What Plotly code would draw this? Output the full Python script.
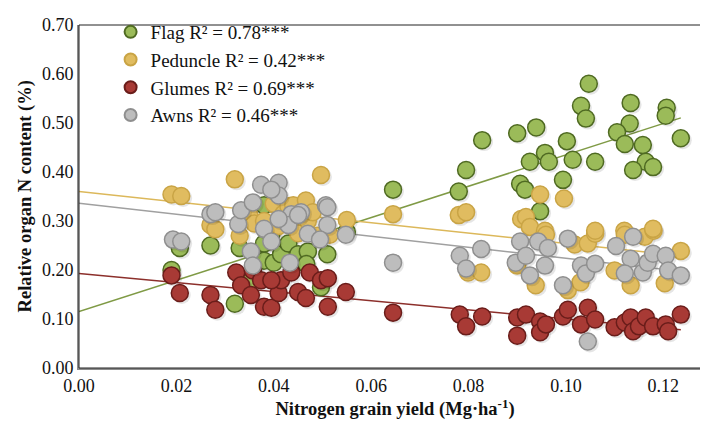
import numpy as np
import plotly.graph_objects as go

# Flag leaf
flag_x = [0.0207, 0.019, 0.027, 0.033, 0.032, 0.035, 0.038, 0.038, 0.038, 0.0395,
          0.040, 0.0415, 0.043, 0.045, 0.047, 0.0467, 0.051, 0.0497, 0.055, 0.0645,
          0.0795, 0.078, 0.0828, 0.090, 0.0939, 0.1047, 0.1031, 0.1041, 0.1133, 0.1207,
          0.1205, 0.1131, 0.1105, 0.1236, 0.1002, 0.0957, 0.0965, 0.0926, 0.1014, 0.106,
          0.1121, 0.1158, 0.1164, 0.1179, 0.1138, 0.0994, 0.0906, 0.0916, 0.0947]
flag_y = [0.245, 0.20, 0.25, 0.245, 0.131, 0.175, 0.332, 0.254, 0.219, 0.272,
          0.215, 0.232, 0.254, 0.232, 0.238, 0.212, 0.232, 0.165, 0.278, 0.364,
          0.404, 0.360, 0.465, 0.479, 0.491, 0.580, 0.535, 0.509, 0.541, 0.531,
          0.515, 0.499, 0.481, 0.469, 0.463, 0.439, 0.421, 0.421, 0.425, 0.421,
          0.457, 0.455, 0.421, 0.410, 0.404, 0.384, 0.376, 0.364, 0.320]

# Peduncle
ped_x = [0.019, 0.021, 0.027, 0.028, 0.033, 0.032, 0.035, 0.036, 0.038, 0.040,
         0.041, 0.042, 0.043, 0.044, 0.045, 0.0466, 0.047, 0.048, 0.049, 0.0497,
         0.0515, 0.055, 0.0645, 0.078, 0.0795, 0.0799, 0.0826, 0.090, 0.0908, 0.0918,
         0.0926, 0.0938, 0.0947, 0.0957, 0.0959, 0.0996, 0.1004, 0.1018, 0.103, 0.1045,
         0.106, 0.106, 0.110, 0.112, 0.1121, 0.1133, 0.1162, 0.118, 0.1179, 0.1203,
         0.1236]
ped_y = [0.354, 0.351, 0.292, 0.283, 0.270, 0.385, 0.312, 0.295, 0.300, 0.335,
         0.290, 0.315, 0.330, 0.332, 0.275, 0.342, 0.300, 0.318, 0.270, 0.394,
         0.272, 0.302, 0.314, 0.312, 0.318, 0.195, 0.195, 0.209, 0.304, 0.308,
         0.288, 0.169, 0.354, 0.280, 0.272, 0.346, 0.159, 0.252, 0.175, 0.254,
         0.274, 0.280, 0.199, 0.280, 0.272, 0.169, 0.268, 0.280, 0.284, 0.173,
         0.239]

# Glumes
glu_x = [0.019, 0.0207, 0.027, 0.028, 0.0323, 0.0333, 0.0353, 0.0357, 0.0374, 0.038,
         0.0395, 0.041, 0.0415, 0.0436, 0.0395, 0.045, 0.0466, 0.0474, 0.0497, 0.0511,
         0.0511, 0.0548, 0.0645, 0.0782, 0.0795, 0.0828, 0.090, 0.090, 0.0918, 0.0947,
         0.0947, 0.0959, 0.0994, 0.1004, 0.1031, 0.1045, 0.106, 0.110, 0.1121, 0.1133,
         0.1138, 0.115, 0.1164, 0.1179, 0.1205, 0.121, 0.1236]
glu_y = [0.189, 0.153, 0.149, 0.119, 0.195, 0.169, 0.149, 0.199, 0.179, 0.125,
         0.123, 0.153, 0.179, 0.195, 0.179, 0.155, 0.143, 0.195, 0.179, 0.183,
         0.125, 0.155, 0.113, 0.109, 0.085, 0.105, 0.103, 0.066, 0.109, 0.095,
         0.073, 0.089, 0.105, 0.119, 0.089, 0.123, 0.099, 0.083, 0.093, 0.103,
         0.075, 0.085, 0.103, 0.085, 0.089, 0.075, 0.109]

# Awns
awn_x = [0.0193, 0.021, 0.027, 0.028, 0.0327, 0.0333, 0.0357, 0.0353, 0.0357, 0.038,
         0.0374, 0.041, 0.041, 0.0395, 0.0507, 0.0456, 0.0436, 0.051, 0.051, 0.047,
         0.0495, 0.0548, 0.0395, 0.0433, 0.043, 0.045, 0.041, 0.0645, 0.0782, 0.0795,
         0.0826, 0.0906, 0.0897, 0.0918, 0.0926, 0.0943, 0.0963, 0.0957, 0.0994, 0.1004,
         0.1031, 0.1041, 0.106, 0.1045, 0.1103, 0.1138, 0.1133, 0.1121, 0.1158, 0.1168,
         0.1179, 0.1205, 0.121, 0.1236]
awn_y = [0.262, 0.258, 0.314, 0.318, 0.294, 0.322, 0.338, 0.238, 0.209, 0.284,
         0.374, 0.378, 0.352, 0.364, 0.332, 0.318, 0.314, 0.328, 0.292, 0.274,
         0.262, 0.272, 0.258, 0.215, 0.292, 0.312, 0.304, 0.215, 0.229, 0.203,
         0.243, 0.258, 0.215, 0.229, 0.189, 0.258, 0.245, 0.209, 0.169, 0.264,
         0.209, 0.193, 0.213, 0.054, 0.249, 0.268, 0.223, 0.193, 0.195, 0.215,
         0.233, 0.229, 0.199, 0.189]

# linear trend (intercept, slope) per organ
trend_fit = {"Flag": (0.115, 3.20), "Peduncle": (0.360, -1.06),
             "Glumes": (0.193, -0.93), "Awns": (0.336, -1.12)}
r2_text = {"Flag": "0.78***", "Peduncle": "0.42***", "Glumes": "0.69***", "Awns": "0.46***"}
trend_x = [0.0, 0.1236]

series = [
    ("Flag", flag_x, flag_y, "#9bbb59", "#4f6a22", "#7f9a45"),
    ("Peduncle", ped_x, ped_y, "#e0bc60", "#c9a445", "#dcb85a"),
    ("Glumes", glu_x, glu_y, "#a83a35", "#6a1d1a", "#8c2f2b"),
    ("Awns", awn_x, awn_y, "#bdbdbd", "#8f8f8f", "#a0a0a0"),
]

serif = "Liberation Serif, Times New Roman, serif"
X_MAX = 0.1298

fig = go.Figure()

for name, xs, ys, fill, edge, line_col in series:
    b0, b1 = trend_fit[name]
    tx = np.array(trend_x)
    fig.add_trace(go.Scatter(x=tx, y=b0 + b1 * tx, mode="lines",
                             line=dict(color=line_col, width=1.5),
                             showlegend=False, hoverinfo="skip"))

for name, xs, ys, fill, edge, line_col in series:
    # soft drop shadow, shifted ~2px right and down
    fig.add_trace(go.Scatter(
        x=np.array(xs) + 0.0004, y=np.array(ys) - 0.004, mode="markers",
        marker=dict(size=18, color="rgba(0,0,0,0.10)"),
        showlegend=False, hoverinfo="skip"))
    fig.add_trace(go.Scatter(
        x=xs, y=ys, mode="markers",
        name=f"{name} R² = {r2_text[name]}",
        marker=dict(size=17, color=fill, line=dict(color=edge, width=1.5)),
    ))

fig.update_layout(
    width=708, height=424,
    margin=dict(l=71, r=5, t=7, b=64),
    paper_bgcolor="white", plot_bgcolor="white",
    font=dict(family=serif, size=17, color="#111"),
    legend=dict(x=0.05, y=1.035, xanchor="left", yanchor="top",
                bgcolor="rgba(0,0,0,0)", font=dict(family=serif, size=19),
                itemsizing="constant"),
    shapes=[dict(type="rect", xref="paper", yref="paper", x0=0, y0=0, x1=1, y1=1,
                 line=dict(color="#222", width=1))],
    annotations=[dict(text="<b>Relative organ N content (%)</b>", textangle=-90,
                      xref="paper", yref="paper", x=-0.084, y=0.5,
                      xanchor="center", yanchor="middle", showarrow=False,
                      font=dict(family=serif, size=18.5, color="#111"))],
)
fig.update_xaxes(range=[0, X_MAX], tickvals=[0, 0.02, 0.04, 0.06, 0.08, 0.10, 0.12],
                 tickformat=".2f", showgrid=False, zeroline=False,
                 tickfont=dict(family=serif, size=18, color="#111"),
                 showline=True, linecolor="#8c8c8c", linewidth=2,
                 title=dict(text="<b>Nitrogen grain yield (Mg·ha<sup>-1</sup>)</b>",
                            font=dict(family=serif, size=18.5), standoff=3))
fig.update_yaxes(range=[0, 0.70], tickvals=[0, 0.1, 0.2, 0.3, 0.4, 0.5, 0.6, 0.7],
                 tickformat=".2f", showgrid=False, ticklabeloverflow="allow",
                 tickfont=dict(family=serif, size=18, color="#111"),
                 zeroline=False, showline=True, linecolor="#8c8c8c", linewidth=2)

fig.write_html("out.html")
